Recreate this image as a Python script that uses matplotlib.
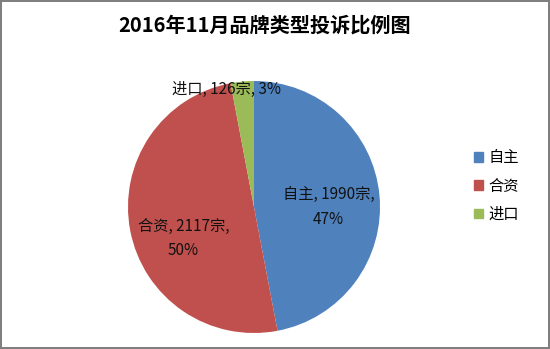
import matplotlib
matplotlib.use('Agg')
import matplotlib.pyplot as plt

plt.rcParams['font.family'] = ['Noto Sans CJK SC', 'DejaVu Sans']

title = '2016年11月品牌类型投诉比例图'
categories = ['自主', '合资', '进口']
counts = [1990, 2117, 126]
colors = ['#4F81BD', '#C0504D', '#9BBB59']

W, H = 550, 349
fig = plt.figure(figsize=(W / 100, H / 100), dpi=100)
fig.patch.set_facecolor('white')
fig.patch.set_edgecolor('#7f7f7f')
fig.patch.set_linewidth(1.5)

# pie center (254, 207) px, radius 126 px
cx, cy, r = 254, 349 - 207, 126
ax = fig.add_axes([(cx - r) / W, (cy - r) / H, 2 * r / W, 2 * r / H])
wedges, _ = ax.pie(counts, colors=colors, startangle=90, counterclock=False,
                   radius=1, wedgeprops=dict(linewidth=0))
ax.set_xlim(-1, 1)
ax.set_ylim(-1, 1)
ax.set_aspect('equal')
ax.axis('off')

total = sum(counts)
pcts = [round(c / total * 100) for c in counts]
label_pos = [(0.59, 0.0), (-0.56, -0.25), (-0.22, 0.93)]
texts = [
    f'{categories[0]}, {counts[0]}宗,\n{pcts[0]}%',
    f'{categories[1]}, {counts[1]}宗,\n{pcts[1]}%',
    f'{categories[2]}, {counts[2]}宗, {pcts[2]}%',
]
for (x, y), t in zip(label_pos, texts):
    ax.text(x, y, t, ha='center', va='center', fontsize=11, color='#111111',
            linespacing=1.55)

fig.text(265 / W, 1 - 25 / H, title, ha='center', va='center',
         fontsize=14.5, fontweight='bold', color='black')

handles = [plt.Rectangle((0, 0), 1, 1, color=c) for c in colors]
fig.legend(handles, categories, loc='center left',
           bbox_to_anchor=(460 / W, 1 - 186 / H), frameon=False,
           fontsize=11, handlelength=0.6, handleheight=0.6,
           handletextpad=0.35, labelspacing=0.75)

fig.savefig('out.png', dpi=100)
